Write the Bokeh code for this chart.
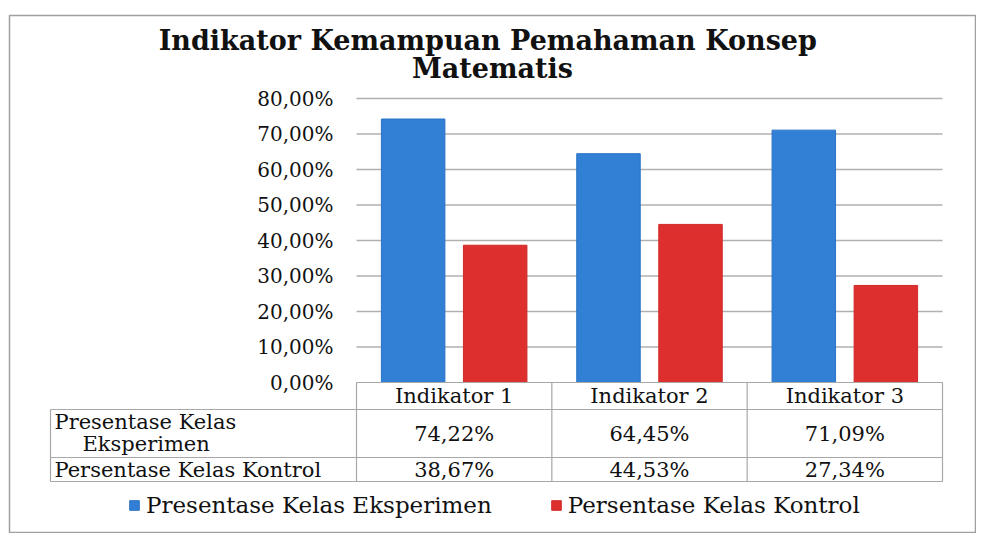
from bokeh.plotting import figure
from bokeh.models import (Range1d, LinearAxis, FixedTicker, CustomJSTickFormatter,
                          Legend, LegendItem)
from bokeh.core.properties import value
from bokeh.embed import file_html
from bokeh.resources import INLINE

# ---------------- data ----------------
title_text = "Indikator Kemampuan  Pemahaman Konsep\nMatematis"
categories = ["Indikator 1", "Indikator 2", "Indikator 3"]
series_names = ["Presentase Kelas Eksperimen", "Persentase Kelas Kontrol"]
row_label_exp = ["Presentase Kelas", "Eksperimen"]
row_label_kon = "Persentase Kelas Kontrol"
eksperimen = [74.22, 64.45, 71.09]
kontrol = [38.67, 44.53, 27.34]
y_ticks = [0, 10, 20, 30, 40, 50, 60, 70, 80]

# ---------------- layout (screen px) ----------------
FL, FR, FT, FB = 9, 975, 15, 532          # frame = chart border box
PX0, PX1 = 356, 942                       # plot area x extent
PY0, PY80 = 382, 98                       # y of 0% and 80%
n = len(categories)
XS = (PX1 - PX0) / n
YS = (PY0 - PY80) / (y_ticks[-1] - y_ticks[0])

def dx(sx):
    return (sx - PX0) / XS

def dy(sy):
    return (PY0 - sy) / YS

BLUE = "#3180d6"
RED = "#dd302e"
GRID = "#b0b0b0"
TLINE = "#a8a8a8"
FONT = "DejaVu Serif"

p = figure(width=FR + 1, height=FB + 1,
           x_range=Range1d(dx(FL), dx(FR)), y_range=Range1d(dy(FB), dy(FT)),
           x_axis_type=None, y_axis_type=None,
           output_backend="svg", toolbar_location=None,
           min_border_left=FL, min_border_right=1, min_border_top=FT, min_border_bottom=1)
p.xgrid.visible = False
p.ygrid.visible = False
p.outline_line_color = "#a0a0a0"
p.outline_line_width = 1.5
p.background_fill_color = "white"
p.border_fill_color = "white"

# gridlines
gt = y_ticks[1:]
p.segment(x0=[0] * len(gt), x1=[n] * len(gt), y0=gt, y1=gt, line_color=GRID, line_width=1.5)

# bars
off, bw = 0.21, 0.325
xe = [i + 0.5 - off for i in range(n)]
xk = [i + 0.5 + off for i in range(n)]
r1 = p.vbar(x=xe, top=eksperimen, bottom=0, width=bw, fill_color=BLUE, line_color="#2a72c4", line_width=1)
r2 = p.vbar(x=xk, top=kontrol, bottom=0, width=bw, fill_color=RED, line_color="#d02a28", line_width=1)

# y axis
yax = LinearAxis(fixed_location=0, ticker=FixedTicker(ticks=y_ticks),
                 formatter=CustomJSTickFormatter(code="return tick.toFixed(2).replace('.', ',') + '%';"),
                 axis_line_color=None, major_tick_line_color=None, minor_tick_line_color=None,
                 major_label_standoff=17, major_label_text_font=FONT,
                 major_label_text_font_size="20px", major_label_text_color="#111111")
p.add_layout(yax, "left")

# data table
ROW_Y = [382, 409, 457, 481]
TL = 50
hx0, hx1, hy0, hy1 = [], [], [], []
hx0.append(0); hx1.append(n); hy0.append(dy(ROW_Y[0])); hy1.append(dy(ROW_Y[0]))
for ry in ROW_Y[1:]:
    hx0.append(dx(TL)); hx1.append(n); hy0.append(dy(ry)); hy1.append(dy(ry))
for i in range(n + 1):
    hx0.append(i); hx1.append(i); hy0.append(dy(ROW_Y[0])); hy1.append(dy(ROW_Y[-1]))
hx0.append(dx(TL)); hx1.append(dx(TL)); hy0.append(dy(ROW_Y[1])); hy1.append(dy(ROW_Y[-1]))
p.segment(x0=hx0, x1=hx1, y0=hy0, y1=hy1, line_color=TLINE, line_width=1.2)

def fmt(v):
    return f"{v:.2f}".replace(".", ",") + "%"

cx = [i + 0.5 for i in range(n)]
tkw = dict(text_font=value(FONT), text_font_size="21px", text_color="#111111",
           text_baseline="middle")
p.text(x=cx, y=[dy(395)] * n, text=categories, text_align="center", **tkw)
p.text(x=cx, y=[dy(433)] * n, text=[fmt(v) for v in eksperimen], text_align="center", **tkw)
p.text(x=cx, y=[dy(469)] * n, text=[fmt(v) for v in kontrol], text_align="center", **tkw)
p.text(x=[dx(54), dx(82)], y=[dy(421), dy(443)], text=row_label_exp, text_align="left", **tkw)
p.text(x=[dx(54)], y=[dy(469)], text=[row_label_kon], text_align="left", **tkw)

# title
p.text(x=[(dx(FL) + dx(FR)) / 2], y=[dy(54)], text=[title_text], text_align="center",
       text_baseline="middle", text_font=value(FONT), text_font_style="bold",
       text_font_size="27px", text_color="#111111", text_line_height=0.93)

# legend
legend = Legend(items=[LegendItem(label=series_names[0], renderers=[r1]),
                       LegendItem(label=series_names[1], renderers=[r2])],
                orientation="horizontal", location=(128 - FL, FB - 518),
                border_line_color=None, background_fill_alpha=0, padding=0, margin=0,
                glyph_width=12, glyph_height=12, label_standoff=6, spacing=58,
                label_text_font=FONT, label_text_font_size="23px", label_height=20,
                label_text_color="#111111")
p.add_layout(legend)

open("out.html", "w").write(file_html(p, INLINE))
